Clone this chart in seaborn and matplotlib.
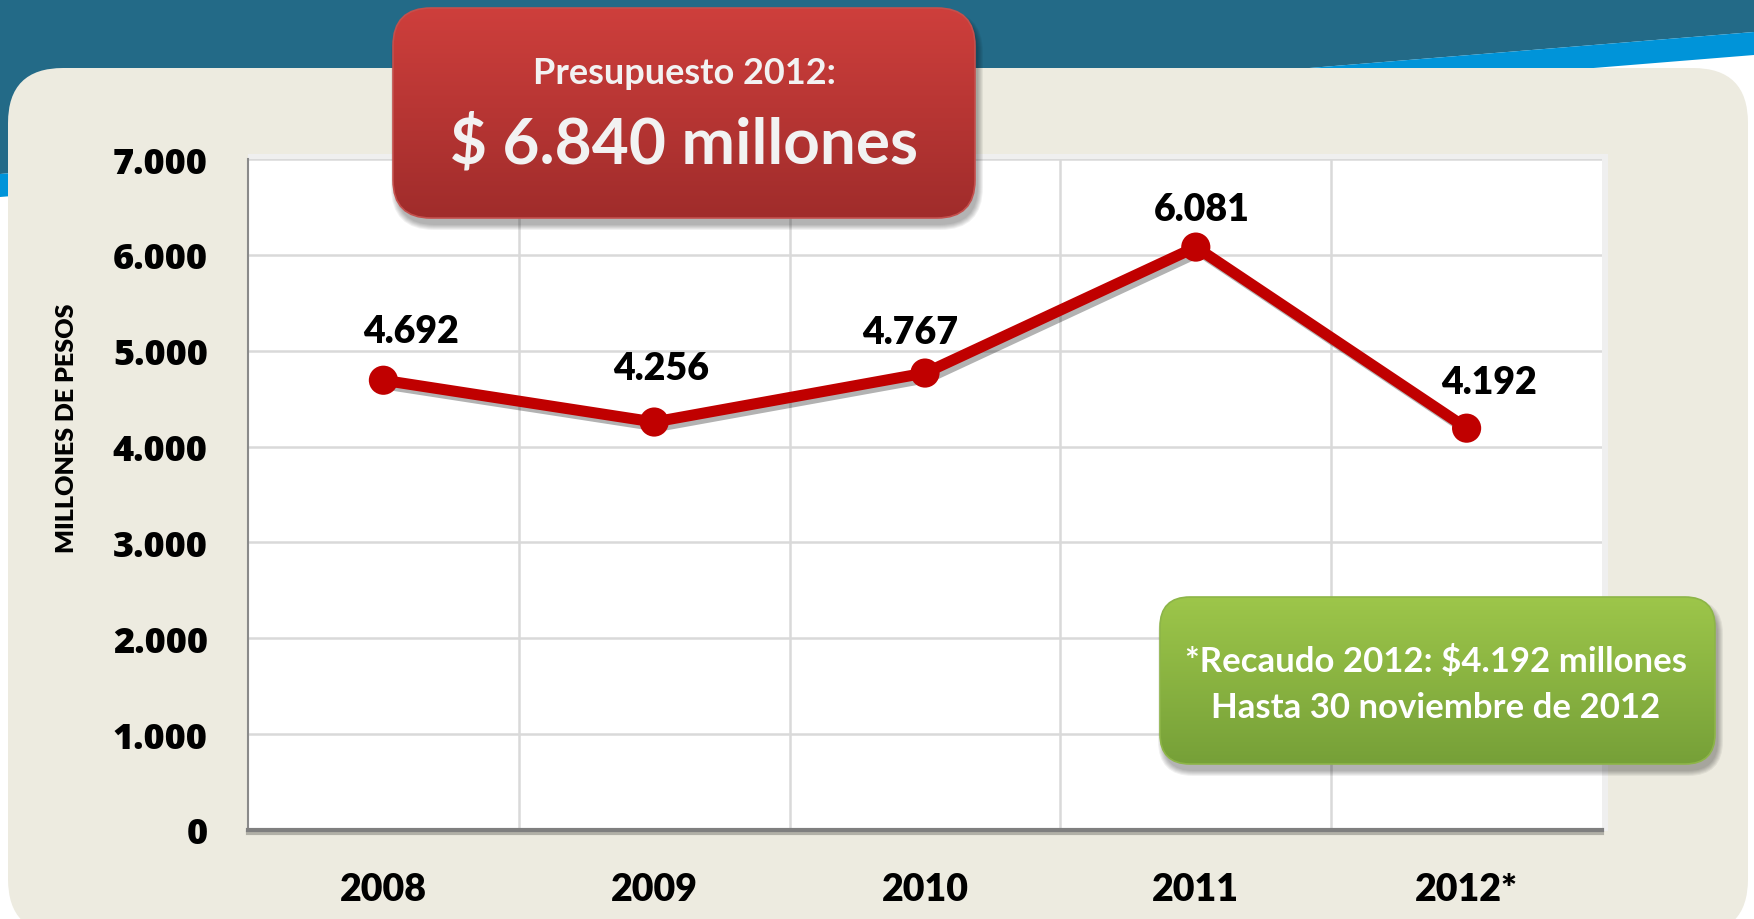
import numpy as np
import pandas as pd
import matplotlib
matplotlib.use("Agg")
import matplotlib.pyplot as plt
import matplotlib.patheffects as pe
from matplotlib.patches import FancyBboxPatch, Polygon, Rectangle
from matplotlib.colors import LinearSegmentedColormap
import seaborn as sns

# ---- data ----
years = ["2008", "2009", "2010", "2011", "2012*"]
recaudo = [4692, 4256, 4767, 6081, 4192]
value_labels = ["4.692", "4.256", "4.767", "6.081", "4.192"]
y_ticks = [0, 1000, 2000, 3000, 4000, 5000, 6000, 7000]
y_tick_labels = ["0", "1.000", "2.000", "3.000", "4.000", "5.000", "6.000", "7.000"]
y_title = "MILLONES DE PESOS"
budget_title = "Presupuesto 2012:"
budget_value = "$ 6.840 millones"
note_lines = ["*Recaudo 2012: $4.192 millones", "Hasta 30 noviembre de 2012"]

# label nudges in pixels (right, up) relative to each point
label_offsets = [(28, 49), (7, 54), (-15, 41), (6, 38), (22, 46)]

sns.set_style("white")
plt.rcParams["font.family"] = ["Lato", "DejaVu Sans"]

W, H = 1754, 920
fig = plt.figure(figsize=(W / 100, H / 100), dpi=100)
fig.patch.set_facecolor("white")

# ---- background layer (pixel coordinates, y downwards) ----
bg = fig.add_axes([0, 0, 1, 1], zorder=0)
bg.set_xlim(0, W)
bg.set_ylim(H, 0)
bg.axis("off")
bg.add_patch(Polygon([(0, 0), (W, 0), (W, 33), (0, 175)], closed=True,
                     fc="#236A87", ec="none"))
bg.add_patch(Polygon([(0, 175), (W, 33), (W, 56), (0, 198)], closed=True,
                     fc="#0094D9", ec="none"))
bg.add_patch(FancyBboxPatch((8, 69), 1740, 866,
                            boxstyle="round,pad=0,rounding_size=55",
                            fc="#EDEBE0", ec="none"))
bg.add_patch(Rectangle((248, 155), 1360, 677, fc="#EFEFEF", ec="none"))

# ---- chart ----
ax = fig.add_axes([248 / W, (H - 831) / H, 1354 / W, 671 / H], zorder=1)
ax.set_facecolor("white")
df = pd.DataFrame({"year": years, "recaudo": recaudo})
sns.lineplot(data=df, x="year", y="recaudo", ax=ax, sort=False, legend=False,
             color="#C00000", linewidth=8, marker="o", markersize=21,
             markeredgewidth=0,
             path_effects=[pe.SimpleLineShadow(offset=(3, -3), shadow_color="black",
                                               alpha=0.3), pe.Normal()])

ax.set_xlim(-0.5, 4.5)
ax.set_ylim(0, 7000)
ax.set_yticks(y_ticks)
ax.set_yticklabels(y_tick_labels, family="Open Sans", fontweight="heavy",
                   fontsize=26, color="black")
ax.set_xticks(range(len(years)))
ax.set_xticklabels(years, family="Lato", fontweight="heavy", fontsize=27,
                   color="black")
ax.set_xticks([0.5, 1.5, 2.5, 3.5], minor=True)
ax.tick_params(axis="both", which="both", length=0)
ax.tick_params(axis="y", pad=29)
ax.tick_params(axis="x", pad=30)
ax.yaxis.grid(True, color="#D9D9D9", linewidth=1.8)
ax.xaxis.grid(True, which="minor", color="#D9D9D9", linewidth=1.8)
ax.xaxis.grid(False, which="major")
ax.set_axisbelow(True)
ax.set_xlabel("")
ax.set_ylabel("")
for side in ("top", "right"):
    ax.spines[side].set_visible(False)
ax.spines["left"].set_color("#8A8A8A")
ax.spines["left"].set_linewidth(1.5)
ax.spines["bottom"].set_color("#7F7F7F")
ax.spines["bottom"].set_linewidth(3)
ax.spines["bottom"].set_path_effects(
    [pe.SimpleLineShadow(offset=(0, -2), alpha=0.25), pe.Normal()])

for i, (v, txt) in enumerate(zip(recaudo, value_labels)):
    ax.annotate(txt, xy=(i, v), xytext=label_offsets[i], textcoords="offset pixels",
                ha="center", va="center", fontsize=27, fontweight="heavy",
                family="Lato", color="black")

fig.text(67 / W, 1 - 428 / H, y_title, rotation=90, ha="center", va="center",
         fontsize=18, fontweight="heavy", family="Lato", color="black")

# ---- callout boxes ----
ov = fig.add_axes([0, 0, 1, 1], zorder=3)
ov.patch.set_alpha(0)
ov.axis("off")


def gradient_box(axis, x, y, w, h, r, top, bottom, edge):
    for k in range(6):
        axis.add_patch(FancyBboxPatch((x + 3 - k, y + 7 - k), w + 2 * k, h + 2 * k,
                                      boxstyle=f"round,pad=0,rounding_size={r + k}",
                                      fc="black", ec="none", alpha=0.055))
    patch = FancyBboxPatch((x, y), w, h, boxstyle=f"round,pad=0,rounding_size={r}",
                           fc="none", ec=edge, lw=1.2, zorder=3)
    axis.add_patch(patch)
    cmap = LinearSegmentedColormap.from_list("fill", [top, bottom])
    grad = np.linspace(0, 1, 256).reshape(-1, 1)
    im = axis.imshow(grad, extent=[x, x + w, y + h, y], cmap=cmap, aspect="auto",
                     origin="upper", zorder=2, interpolation="bilinear")
    im.set_clip_path(patch)


gradient_box(ov, 393, 9, 582, 210, 38, "#CE3F3C", "#A02C2B", "#C4504D")
gradient_box(ov, 1160, 598, 555, 167, 30, "#9DC64A", "#76A038", "#8DB548")
ov.set_xlim(0, W)
ov.set_ylim(H, 0)

ov.text(684, 74, budget_title, ha="center", va="center", fontsize=26,
        fontweight="bold", family="Lato", color="#F2F2F2", zorder=5)
ov.text(684, 144, budget_value, ha="center", va="center", fontsize=46,
        fontweight="bold", family="Lato", color="#F2F2F2", zorder=5)
ov.text(1436, 662, note_lines[0], ha="center", va="center", fontsize=25,
        fontweight="bold", family="Lato", color="white", zorder=5)
ov.text(1436, 708, note_lines[1], ha="center", va="center", fontsize=25,
        fontweight="bold", family="Lato", color="white", zorder=5)

fig.savefig("out.png", dpi=100)
